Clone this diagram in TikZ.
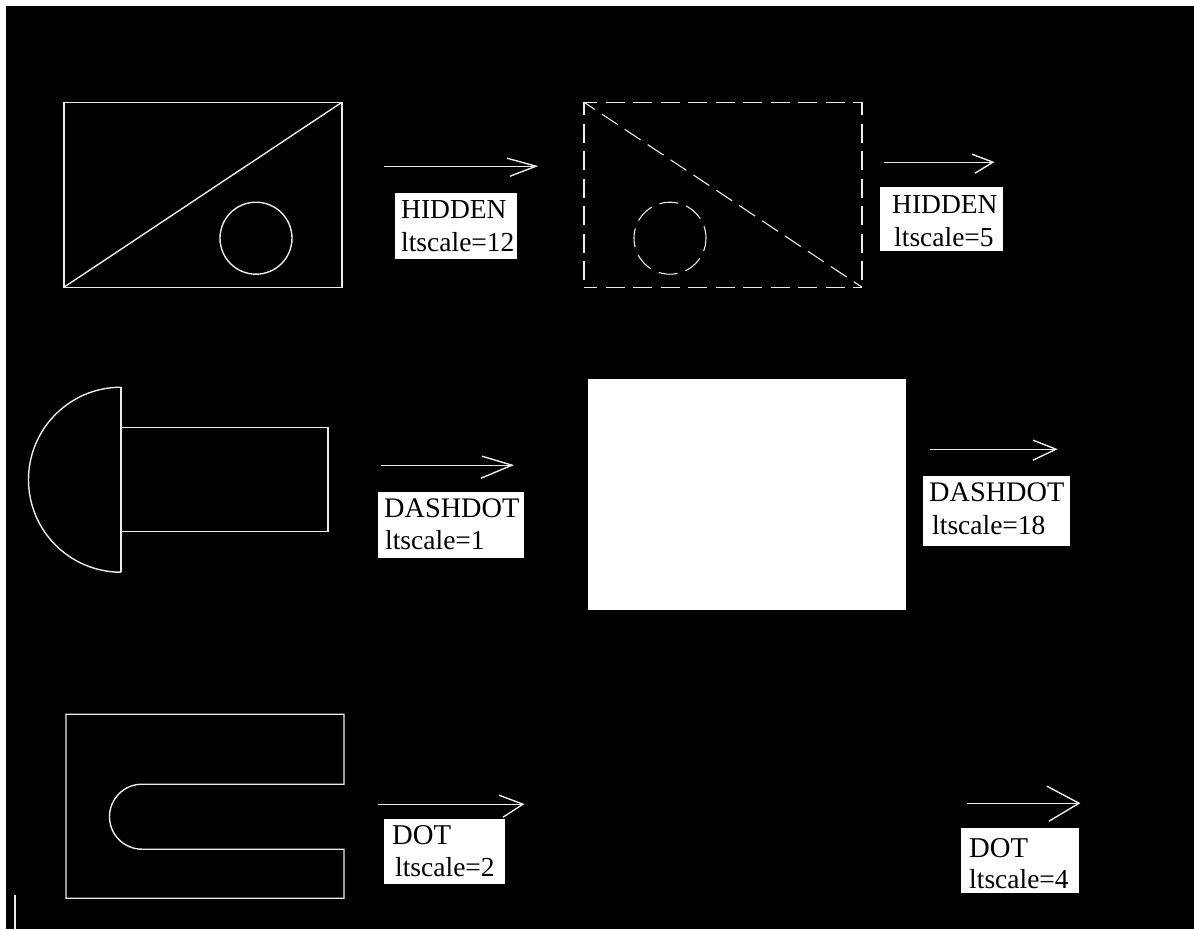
\documentclass[tikz,border=0pt]{standalone}
\usepackage{fontspec}
\setmainfont{Liberation Serif}
\tikzset{
  cadline/.style={draw=white!92!black, line width=1.4pt},
  hiddenline/.style={cadline, dash pattern=on 19pt off 8.5pt, dash phase=6pt},
  labeltext/.style={anchor=base west, inner sep=0pt, text=black, font=\fontsize{27.5}{33}\selectfont},
  dashdottext/.style={labeltext, font=\fontsize{28.3}{33}\selectfont},
  dottext/.style={labeltext, font=\fontsize{28.7}{33}\selectfont},
}

\begin{document}
\begin{tikzpicture}[x=1pt,y=-1pt]
  \useasboundingbox (0,0) rectangle (1194,929);
  \fill[white] (0,0) rectangle (1194,929);
  \fill[black] (6,6) rectangle (1194,929);
  \fill[white] (588,379) rectangle (906,610);

  \begin{scope}[shift={(0,0.2)}]
  % top row
  \draw[cadline] (64,102) rectangle (342,287);
  \draw[cadline] (64,287) -- (342,102);
  \draw[cadline] (256,238) circle (36);

  \draw[hiddenline] (584,102) -- (862,102);
  \draw[hiddenline] (584,287) -- (862,287);
  \draw[hiddenline] (584,102) -- (584,287);
  \draw[hiddenline] (862,102) -- (862,287);
  \draw[hiddenline, line width=1.1pt] (584,102) -- (862,287);
  \draw[hiddenline, line width=1.1pt] (670,238) circle (36);

  % middle row
  \draw[cadline] (121,387) -- (121,572);
  \draw[cadline] (121,387) arc[start angle=270, end angle=90, radius=92.5];
  \draw[cadline] (122,427) -- (328,427) -- (328,531) -- (121,531);

  % bottom row
  \draw[cadline] (142,784) -- (344,784) -- (344,714) -- (66,714) -- (66,898) -- (344,898) -- (344,849) -- (142,849)
    arc[start angle=90, end angle=270, radius=32.5];
  \draw[cadline] (15,895) -- (15,929);

  % arrows
  \coordinate (tailA) at (384,166);  \coordinate (tipA) at (536,166);
  \coordinate (tailB) at (884,162);  \coordinate (tipB) at (993,162);
  \coordinate (tailC) at (381,465);  \coordinate (tipC) at (512,465);
  \coordinate (tailD) at (930,449);  \coordinate (tipD) at (1056,449);
  \coordinate (tailE) at (378,804);  \coordinate (tipE) at (523,804);
  \coordinate (tailF) at (967,803);  \coordinate (tipF) at (1079,803);
  \draw[cadline] (tailA) -- (tipA);
  \draw[cadline] (tipA) ++(-29,-8) -- (tipA) -- ++(-26,10);
  \draw[cadline] (tailB) -- (tipB);
  \draw[cadline] (tipB) ++(-21,-8) -- (tipB) -- ++(-18,11);
  \draw[cadline] (tailC) -- (tipC);
  \draw[cadline] (tipC) ++(-30,-9) -- (tipC) -- ++(-31,13);
  \draw[cadline] (tailD) -- (tipD);
  \draw[cadline] (tipD) ++(-23,-9) -- (tipD) -- ++(-23,11);
  \draw[cadline] (tailE) -- (tipE);
  \draw[cadline] (tipE) ++(-24,-9) -- (tipE) -- ++(-20,13);
  \draw[cadline] (tailF) -- (tipF);
  \draw[cadline] (tipF) ++(-32,-17) -- (tipF) -- ++(-30,18);
  \end{scope}

  % labels
  \fill[white] (395,193) rectangle (517,259);
  \node[labeltext] (hiddenA) at (401,218) {HIDDEN};
  \node[labeltext] (scaleA) at (401,251) {ltscale=12};

  \fill[white] (880,187) rectangle (1003,251);
  \node[labeltext] (hiddenB) at (892,213) {HIDDEN};
  \node[labeltext] (scaleB) at (894,246) {ltscale=5};

  \fill[white] (378,492) rectangle (524,558);
  \node[dashdottext] (dashdotA) at (384,517) {DASHDOT};
  \node[labeltext] (scaleC) at (385,549) {ltscale=1};

  \fill[white] (923,476) rectangle (1070,546);
  \node[dashdottext] (dashdotB) at (929,501) {DASHDOT};
  \node[labeltext] (scaleD) at (932,534) {ltscale=18};

  \fill[white] (384,819) rectangle (505,884);
  \node[dottext] (dotA) at (392,844) {DOT};
  \node[labeltext] (scaleE) at (395,876) {ltscale=2};

  \fill[white] (961,828) rectangle (1079,893);
  \node[dottext] (dotB) at (969,857) {DOT};
  \node[labeltext] (scaleF) at (969,888) {ltscale=4};
\end{tikzpicture}
\end{document}
